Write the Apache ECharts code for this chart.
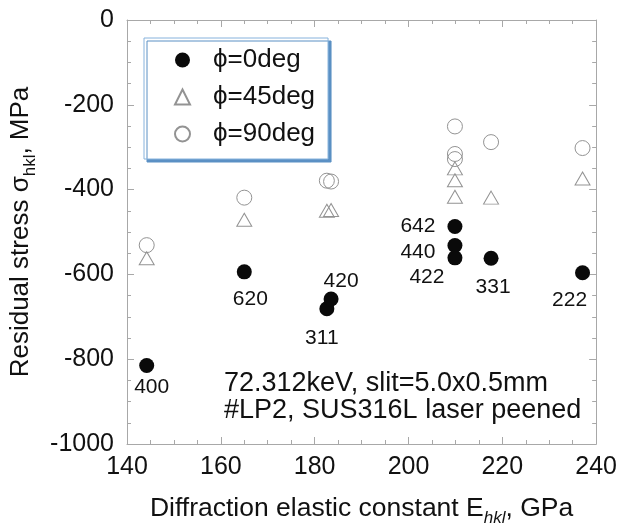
<!DOCTYPE html>
<html>
<head>
<meta charset="utf-8">
<script src="https://cdn.jsdelivr.net/npm/echarts@6/dist/echarts.min.js"></script>
<style>html,body{margin:0;padding:0;background:#fff}#c{width:620px;height:532px}</style>
</head>
<body>
<div id="c"></div>
<script>
// ---- data ----
const seriesNames = ['\u03D5=0deg', '\u03D5=45deg', '\u03D5=90deg'];
const hklLabels = ['400', '620', '311', '420', '642', '440', '422', '331', '222'];
const E_phi0  = [144.2, 165.0, 182.6, 183.5, 209.9, 209.9, 209.9, 217.6, 237.1];
const S_phi0  = [-815, -594, -681, -658, -487, -532, -561, -562, -596];
const E_phi45 = [144.2, 165.0, 182.6, 183.5, 209.9, 209.9, 209.9, 217.6, 237.1];
const S_phi45 = [-562, -471, -450, -448, -350, -378, -417, -419, -374];
const E_phi90 = [144.2, 165.0, 182.6, 183.5, 209.9, 209.9, 209.9, 217.6, 237.1];
const S_phi90 = [-531, -419, -379, -381, -251, -316, -328, -288, -302];
const xTicks = [140, 160, 180, 200, 220, 240];
const yTicks = [-1000, -800, -600, -400, -200, 0];
const noteLines = ['72.312keV, slit=5.0x0.5mm', '#LP2, SUS316L laser peened'];

// ---- styling ----
const FONT = 'Liberation Sans, Arial, Helvetica, sans-serif';
const labelOffsets = [[5, 22], [6, 27], [-5, 29], [10, -18], [-37, 0], [-37, 7], [-28, 19], [2, 29], [-13, 27]];
const frameColor = '#a8a8a8';

function pairs(xs, ys) { return xs.map((x, i) => [x, ys[i]]); }

function xAxisDef(pos, showLabel) {
  return {
    type: 'value', position: pos, min: xTicks[0], max: xTicks[xTicks.length - 1],
    interval: xTicks[1] - xTicks[0],
    axisLine: { show: true, onZero: false, lineStyle: { color: frameColor, width: 1 } },
    axisTick: { show: true, inside: true, length: 7, lineStyle: { color: frameColor } },
    minorTick: { show: true, splitNumber: 4, length: 4, lineStyle: { color: frameColor } },
    splitLine: { show: false },
    axisLabel: { show: showLabel, color: '#111', fontFamily: FONT, fontSize: 25, margin: 11,
      formatter: v => String(v) },
  };
}
function yAxisDef(pos, showLabel) {
  return {
    type: 'value', position: pos, min: yTicks[0], max: yTicks[yTicks.length - 1],
    interval: yTicks[1] - yTicks[0],
    axisLine: { show: true, onZero: false, lineStyle: { color: frameColor, width: 1 } },
    axisTick: { show: true, inside: true, length: 7, lineStyle: { color: frameColor } },
    minorTick: { show: true, splitNumber: 4, length: 4, lineStyle: { color: frameColor } },
    splitLine: { show: false },
    axisLabel: { show: showLabel, color: '#111', fontFamily: FONT, fontSize: 25, margin: 13,
      formatter: v => String(v) },
  };
}

const xMain = xAxisDef('bottom', true);
xMain.name = '{a|Diffraction elastic constant E}{s|hkl}{a|, GPa}';
xMain.nameLocation = 'middle';
xMain.nameGap = 47;
xMain.nameTextStyle = {
  rich: {
    a: { fontFamily: FONT, fontSize: 26.5, color: '#111', lineHeight: 36, verticalAlign: 'middle' },
    s: { fontFamily: FONT, fontSize: 17, fontStyle: 'italic', color: '#111', lineHeight: 14, verticalAlign: 'bottom' }
  }
};
const yMain = yAxisDef('left', true);
yMain.name = '{a|Residual stress \u03C3}{s|hkl}{a|, MPa}';
yMain.nameLocation = 'middle';
yMain.nameGap = 82;
yMain.nameRotate = 90;
yMain.nameTextStyle = {
  rich: {
    a: { fontFamily: FONT, fontSize: 26, color: '#111', lineHeight: 36, verticalAlign: 'middle' },
    s: { fontFamily: FONT, fontSize: 17, color: '#111', lineHeight: 14, verticalAlign: 'bottom' }
  }
};

const chart = echarts.init(document.getElementById('c'), null, { renderer: 'canvas' });
chart.setOption({
  animation: false,
  backgroundColor: '#fff',
  grid: { left: 127, right: 22, top: 20, bottom: 82, containLabel: false },
  xAxis: [xMain, xAxisDef('top', false)],
  yAxis: [yMain, yAxisDef('right', false)],
  legend: {
    orient: 'vertical', left: 144, top: 38,
    padding: [9, 13, 12, 30], itemGap: 11,
    itemWidth: 15, itemHeight: 15,
    backgroundColor: '#fff', borderColor: '#86b2dc', borderWidth: 1, borderRadius: 0,
    shadowColor: '#5b90c4', shadowBlur: 0, shadowOffsetX: 3, shadowOffsetY: 3,
    textStyle: { fontFamily: FONT, fontSize: 26, color: '#111', padding: [0, 0, 0, 18], lineHeight: 26 },
    data: seriesNames
  },
  graphic: [{
    type: 'text', left: 224, top: 370,
    style: { text: noteLines.join('\n'), font: '27px ' + FONT, fill: '#111', lineHeight: 27 }
  }],
  series: [
    {
      name: seriesNames[0], type: 'scatter', xAxisIndex: 0, yAxisIndex: 0,
      symbol: 'circle', symbolSize: 15, z: 5,
      itemStyle: { color: '#0a0a0a', opacity: 1 },
      data: pairs(E_phi0, S_phi0).map((v, i) => ({
        value: v,
        label: { show: true, position: 'inside', offset: labelOffsets[i], formatter: hklLabels[i],
          fontFamily: FONT, fontSize: 21, color: '#111' }
      }))
    },
    {
      name: seriesNames[1], type: 'scatter', xAxisIndex: 0, yAxisIndex: 0,
      symbol: 'triangle', symbolSize: [15, 13], z: 3,
      itemStyle: { color: 'rgba(0,0,0,0)', borderColor: '#939393', borderWidth: 1, opacity: 1 },
      data: pairs(E_phi45, S_phi45)
    },
    {
      name: seriesNames[2], type: 'scatter', xAxisIndex: 0, yAxisIndex: 0,
      symbol: 'circle', symbolSize: 15, z: 3,
      itemStyle: { color: 'rgba(0,0,0,0)', borderColor: '#939393', borderWidth: 1, opacity: 1 },
      data: pairs(E_phi90, S_phi90)
    }
  ]
});
</script>
</body>
</html>
